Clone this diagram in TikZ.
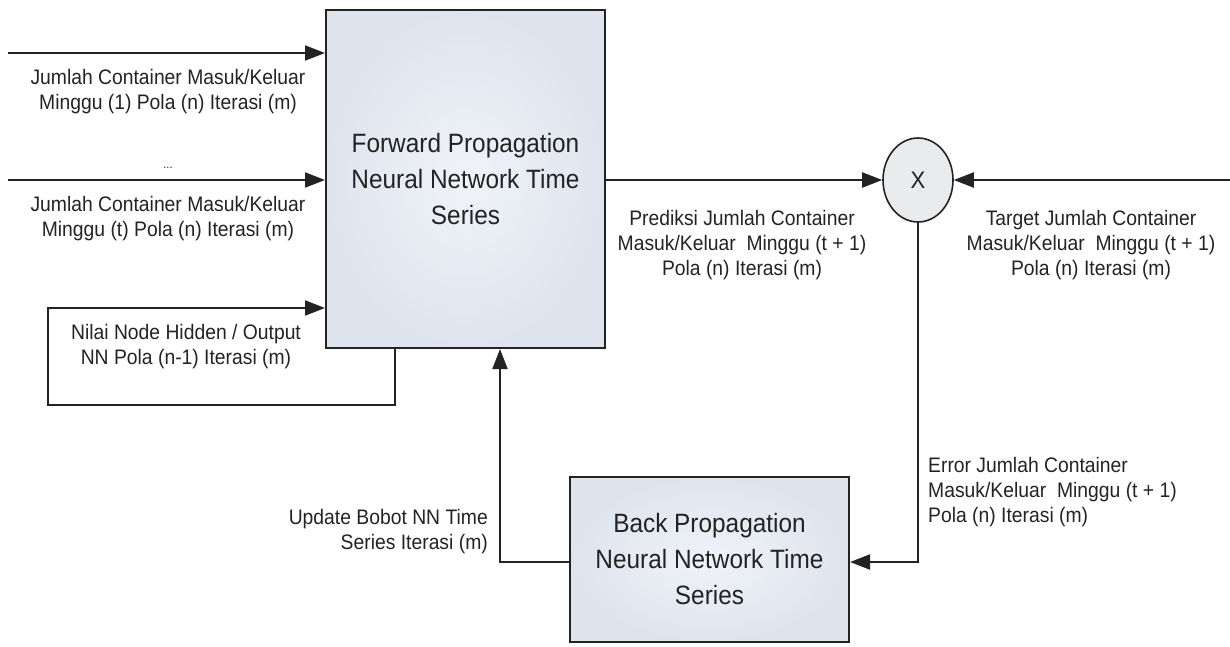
\documentclass[tikz,border=0pt]{standalone}
\usepackage{fontspec}
\setmainfont[FakeStretch=0.92]{Liberation Sans}
\usetikzlibrary{arrows.meta,shapes.geometric,calc}
\definecolor{boxfill}{RGB}{222,228,238}
\definecolor{boxfillc}{RGB}{240,243,248}
\definecolor{circfill}{RGB}{234,235,236}
\definecolor{ink}{RGB}{35,35,35}
\begin{document}
\begin{tikzpicture}[x=1pt,y=-1pt,
  conn/.style={line width=2pt,draw=ink},
  arr/.style={conn,-{Triangle[length=20pt,width=15pt]}},
  procbox/.style={draw=ink,line width=2pt,rectangle,inner sep=0pt,
    inner color=boxfillc,outer color=boxfill,align=center,text=ink,
    font=\fontsize{26.5}{36}\selectfont},
  lbl/.style={align=center,text=ink,inner sep=0pt,font=\fontsize{21}{25}\selectfont},
  junction/.style={draw=ink,line width=1.6pt,ellipse,fill=circfill,inner sep=0pt,
    minimum width=70pt,minimum height=84pt,text=ink,font=\fontsize{24}{26}\selectfont}
]
\useasboundingbox (0,0) rectangle (1230,646);

% process blocks
\node[procbox,minimum width=279pt,minimum height=338pt] (fp) at (465.5,179)
  {Forward Propagation\\Neural Network Time\\Series};
\node[procbox,minimum width=279pt,minimum height=165pt] (bp) at (709.5,559.5)
  {Back Propagation\\Neural Network Time\\Series};
\node[junction] (x) at (918,180) {X};

% free ends and corners of the connectors
\coordinate (in1) at (8,53);
\coordinate (in2) at (8,180);
\coordinate (tgt) at (1230,180);
\coordinate (fbk) at (395,348);
\coordinate (fbkA) at (395,405);
\coordinate (fbkB) at (48,405);
\coordinate (fbkC) at (48,308);
\coordinate (upd) at (500,562);
\coordinate (err) at (918,562);

% input connectors
\draw[arr] (in1) -- (fp.west |- in1);
\draw[arr] (in2) -- (fp.west |- in2);
\draw[arr] (fp.south -| fbk) -- (fbkA) -- (fbkB) -- (fbkC) -- (fp.west |- fbkC);

% output, target and error
\draw[arr] (fp.east |- x) -- (x.west);
\draw[arr] (tgt) -- (x.east);
\draw[arr] (x.south) -- (err) -- (bp.east |- err);

% weight update
\draw[arr] (bp.west |- upd) -- (upd) -- (fp.south -| upd);

% labels
\node[lbl] (l1) at (168,92) {Jumlah Container Masuk/Keluar\\Minggu (1) Pola (n) Iterasi (m)};
\node[lbl,font=\fontsize{12}{14}\selectfont] (dots) at (168,168) {...};
\node[lbl] (l2) at (168,219) {Jumlah Container Masuk/Keluar\\Minggu (t) Pola (n) Iterasi (m)};
\node[lbl] (l3) at (186,347) {Nilai Node Hidden / Output\\NN Pola (n-1) Iterasi (m)};
\node[lbl] (pred) at (742,245) {Prediksi Jumlah Container\\Masuk/Keluar\ \ Minggu (t + 1)\\Pola (n) Iterasi (m)};
\node[lbl] (targ) at (1091,245) {Target Jumlah Container\\Masuk/Keluar\ \ Minggu (t + 1)\\Pola (n) Iterasi (m)};
\node[lbl,align=left,anchor=west] (errl) at (928,492) {Error Jumlah Container\\Masuk/Keluar\ \ Minggu (t + 1)\\Pola (n) Iterasi (m)};
\node[lbl,align=right,anchor=east] (updl) at (488,532) {Update Bobot NN Time\\Series Iterasi (m)};
\end{tikzpicture}
\end{document}
